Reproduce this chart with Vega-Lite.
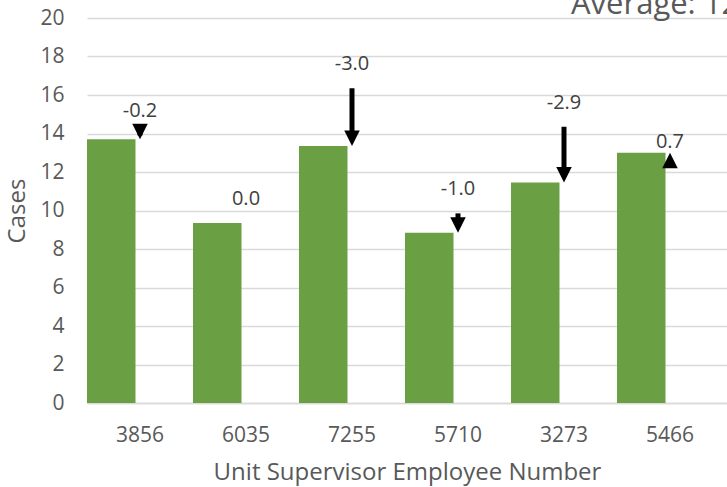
{
  "$schema": "https://vega.github.io/schema/vega-lite/v6.json",
  "autosize": "none",
  "width": 640,
  "height": 385,
  "padding": {"left": 87, "top": 18, "right": 0, "bottom": 84},
  "background": "white",
  "config": {
    "view": {"stroke": null},
    "font": "Open Sans",
    "axisY": {
      "grid": true,
      "gridColor": "#d9d9d9",
      "gridWidth": 1.3,
      "domain": false,
      "ticks": false,
      "labelFontSize": 21,
      "labelColor": "#595959",
      "labelPadding": 23,
      "labelOverlap": false,
      "titleFontSize": 24,
      "titleFontWeight": "normal",
      "titleColor": "#595959",
      "titlePadding": 10
    }
  },
  "data": {
    "values": [
      {"supervisor": "3856", "cases": 13.7, "change": -0.2, "previous": 13.9, "label": "-0.2"},
      {"supervisor": "6035", "cases": 9.35, "change": 0.0, "previous": 9.35, "label": "0.0"},
      {"supervisor": "7255", "cases": 13.35, "change": -3.0, "previous": 16.35, "label": "-3.0"},
      {"supervisor": "5710", "cases": 8.85, "change": -1.0, "previous": 9.85, "label": "-1.0"},
      {"supervisor": "3273", "cases": 11.45, "change": -2.9, "previous": 14.35, "label": "-2.9"},
      {"supervisor": "5466", "cases": 13.0, "change": 0.7, "previous": 12.3, "label": "0.7"}
    ]
  },
  "encoding": {
    "x": {
      "field": "supervisor",
      "type": "nominal",
      "sort": null,
      "scale": {"paddingInner": 0, "paddingOuter": 0.0189, "align": 0},
      "axis": {
        "title": "Unit Supervisor Employee Number",
        "labelAngle": 0,
        "labelFontSize": 21,
        "labelColor": "#595959",
        "labelPadding": 21,
        "labelOverlap": false,
        "ticks": false,
        "domainColor": "#d9d9d9",
        "domainWidth": 1.5,
        "titleFontSize": 24,
        "titleFontWeight": "normal",
        "titleColor": "#595959",
        "titlePadding": 15
      }
    }
  },
  "layer": [
    {
      "mark": {"type": "bar", "color": "#6a9f43"},
      "encoding": {
        "xOffset": {"datum": "Cases", "scale": {"domain": ["Cases", "Change"], "paddingInner": 0.1565, "paddingOuter": 0}},
        "y": {
          "field": "cases",
          "type": "quantitative",
          "scale": {"domain": [0, 20], "nice": false},
          "axis": {"title": "Cases", "values": [0, 2, 4, 6, 8, 10, 12, 14, 16, 18, 20]}
        }
      }
    },
    {
      "transform": [{"filter": "datum.change < 0"}],
      "mark": {"type": "rule", "color": "black", "strokeWidth": 5, "y2Offset": -10},
      "encoding": {
        "y": {"field": "previous", "type": "quantitative", "axis": {"title": "Cases", "values": [0, 2, 4, 6, 8, 10, 12, 14, 16, 18, 20]}},
        "y2": {"field": "cases"}
      }
    },
    {
      "transform": [{"filter": "datum.change > 0"}],
      "mark": {"type": "rule", "color": "black", "strokeWidth": 5, "y2Offset": 10},
      "encoding": {
        "y": {"field": "previous", "type": "quantitative", "axis": {"title": "Cases", "values": [0, 2, 4, 6, 8, 10, 12, 14, 16, 18, 20]}},
        "y2": {"field": "cases"}
      }
    },
    {
      "transform": [{"filter": "datum.change < 0"}],
      "mark": {"type": "point", "shape": "M-1,-1L1,-1L0,1Z", "filled": true, "color": "black", "opacity": 1, "size": 240, "yOffset": -7.75},
      "encoding": {
        "y": {"field": "cases", "type": "quantitative", "axis": {"title": "Cases", "values": [0, 2, 4, 6, 8, 10, 12, 14, 16, 18, 20]}}
      }
    },
    {
      "transform": [{"filter": "datum.change > 0"}],
      "mark": {"type": "point", "shape": "M-1,1L1,1L0,-1Z", "filled": true, "color": "black", "opacity": 1, "size": 240, "yOffset": 7.75},
      "encoding": {
        "y": {"field": "cases", "type": "quantitative", "axis": {"title": "Cases", "values": [0, 2, 4, 6, 8, 10, 12, 14, 16, 18, 20]}}
      }
    },
    {
      "mark": {"type": "text", "fontSize": 20, "color": "#404040", "baseline": "middle", "dy": -24},
      "encoding": {
        "y": {"field": "previous", "type": "quantitative", "axis": {"title": "Cases", "values": [0, 2, 4, 6, 8, 10, 12, 14, 16, 18, 20]}},
        "text": {"field": "label"}
      }
    },
    {
      "data": {"values": [{"note": "Average: 12"}]},
      "mark": {"type": "text", "fontSize": 31, "color": "#595959", "align": "left", "baseline": "alphabetic", "dx": 7, "dy": -4},
      "encoding": {
        "x": {"datum": "3273"},
        "y": {"datum": 20, "type": "quantitative", "axis": {"title": "Cases", "values": [0, 2, 4, 6, 8, 10, 12, 14, 16, 18, 20]}},
        "text": {"field": "note"}
      }
    }
  ]
}
